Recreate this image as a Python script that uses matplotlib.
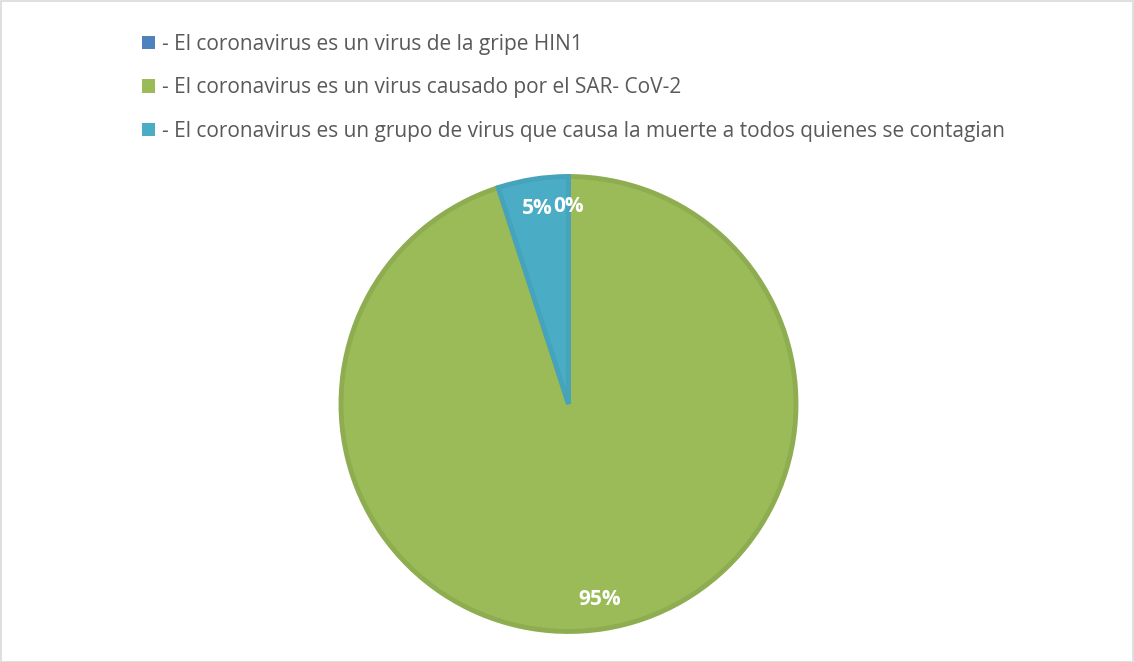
import matplotlib
matplotlib.use("Agg")
import matplotlib.pyplot as plt
from matplotlib.patches import Patch, Rectangle

labels = [
    "- El coronavirus es un virus de la gripe HIN1",
    "- El coronavirus es un virus causado por el SAR- CoV-2",
    "- El coronavirus es un grupo de virus que causa la muerte a todos quienes se contagian",
]
values = [0, 95, 5]
colors = ["#4f81bd", "#9bbb59", "#4bacc6"]
edge_colors = ["#4a7ab3", "#8eac50", "#46a3bc"]

plt.rcParams['font.family'] = ['Open Sans', 'DejaVu Sans']

W, H = 1134, 662
fig = plt.figure(figsize=(W / 100, H / 100), dpi=100)
fig.patches.append(Rectangle((0.5 / W, 0.5 / H), 1 - 1.5 / W, 1 - 1.5 / H, transform=fig.transFigure,
                             fill=False, edgecolor="#d9d9d9", linewidth=1.2))

cx, cy, r = 568.5, 404, 227.5
ax = fig.add_axes([(cx - r) / W, (H - cy - r) / H, 2 * r / W, 2 * r / H])
wedges, texts, autotexts = ax.pie(
    values, colors=colors, startangle=90, counterclock=False,
    autopct=lambda p: f"{p:.0f}%", pctdistance=0.87,
    wedgeprops=dict(linewidth=3.5, edgecolor="none"),
    textprops=dict(color="white", fontsize=15, fontweight="bold"),
)
for w, ec in zip(wedges, edge_colors):
    w.set_edgecolor(ec)
    w.set_joinstyle("miter")
ax.set_xlim(-1, 1)
ax.set_ylim(-1, 1)
ax.set_aspect("auto")
ax.axis("off")

# fit legend font so that the longest entry spans like the original
renderer = fig.canvas.get_renderer()
probe = fig.text(0, 0, labels[2], fontsize=10)
wpx = probe.get_window_extent(renderer).width
probe.remove()
fs = 10 * 846 / wpx

handles = [Patch(facecolor=c, edgecolor="none") for c in colors]
fig.legend(handles, labels, loc="upper left", bbox_to_anchor=(123 / W, 1 - 15 / H),
           frameon=False, fontsize=fs, labelcolor="#595959",
           handlelength=0.62, handleheight=0.62, handletextpad=0.35, labelspacing=1.08)

fig.savefig("out.png", dpi=100)
